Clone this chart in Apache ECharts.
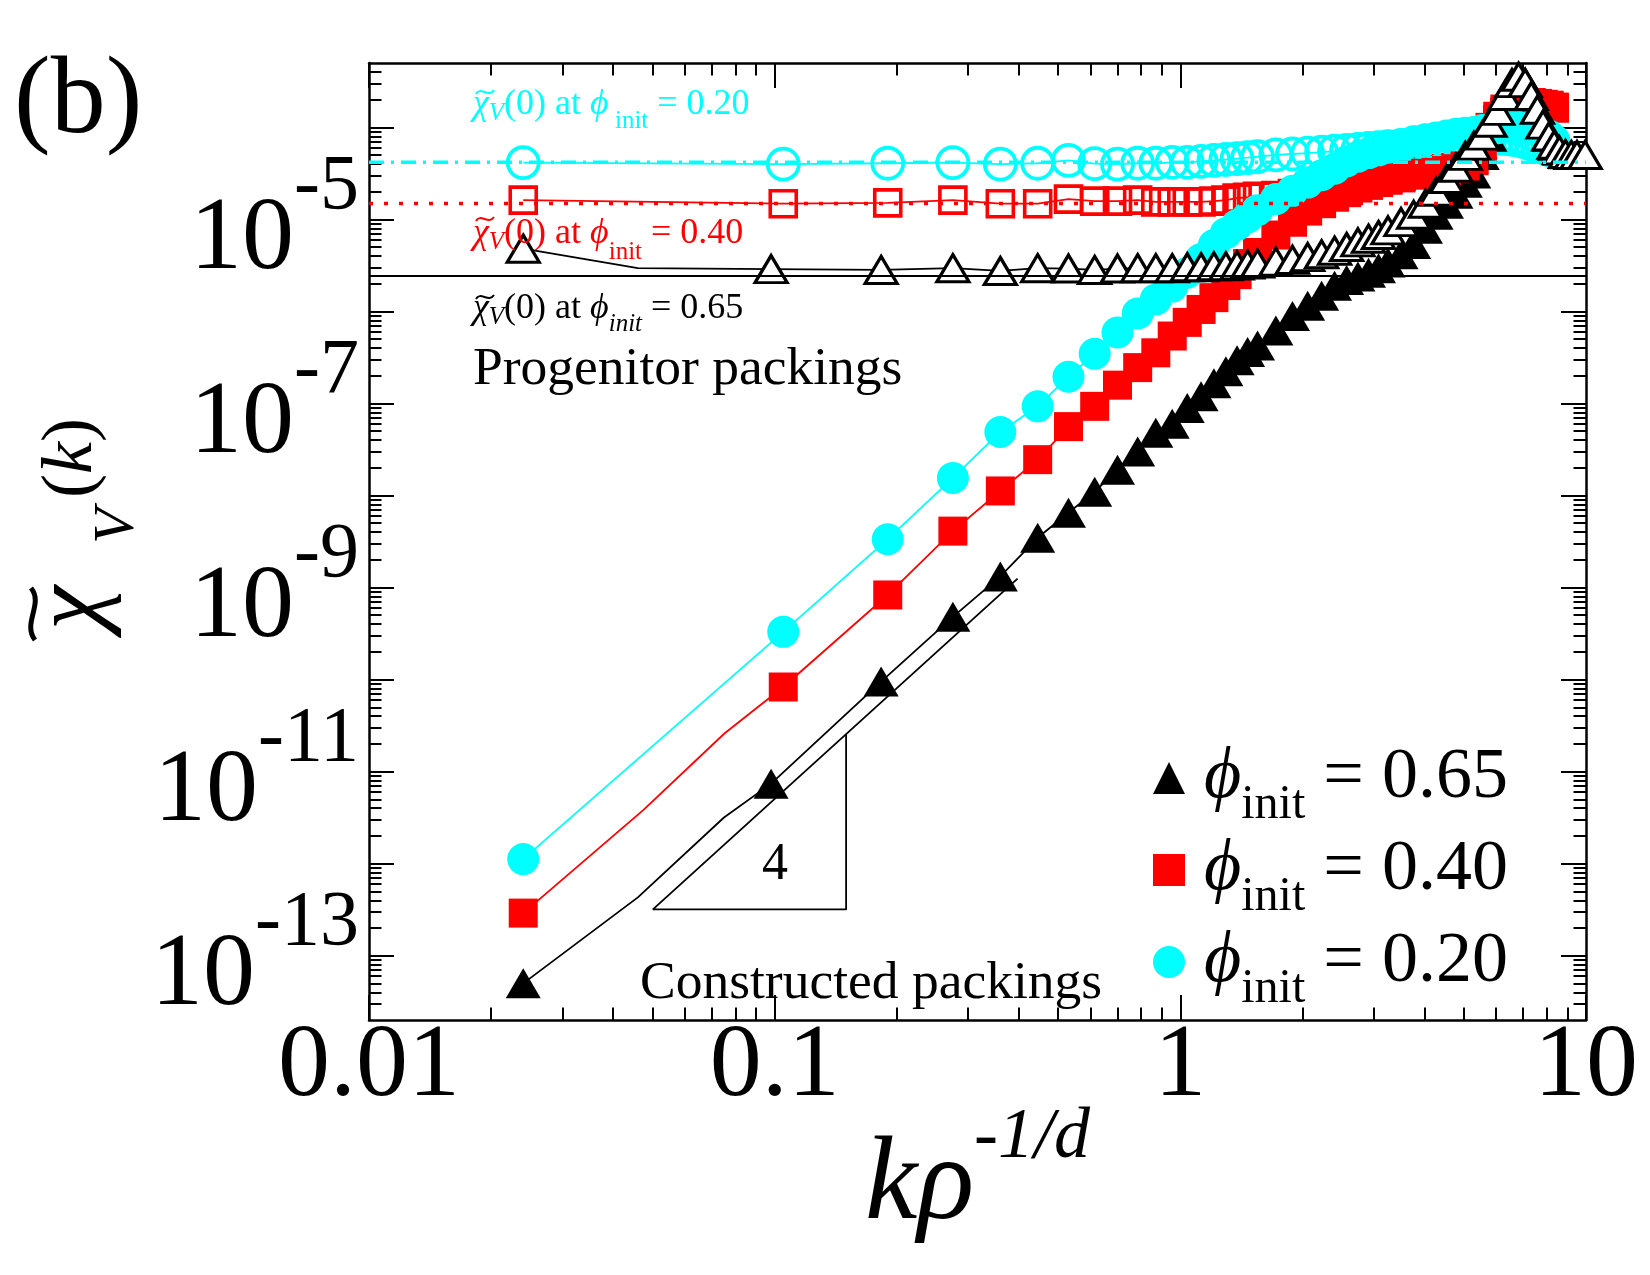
<!DOCTYPE html>
<html>
<head>
<meta charset="utf-8">
<title>spectral density chi_V(k)</title>
<script src="https://cdn.jsdelivr.net/npm/echarts@6/dist/echarts.min.js"></script>
<style>
  html, body { margin: 0; padding: 0; background: #fff; }
  #chart { width: 1650px; height: 1275px; }
</style>
</head>
<body>
<div id="chart"></div>
<script>
// k rho^(-1/d) positions of the markers
var kCommon = [0.024, 0.105, 0.19, 0.275, 0.36, 0.445, 0.53, 0.615, 0.70, 0.785,
  0.87, 0.955, 1.04, 1.125, 1.21, 1.295, 1.38, 1.465, 1.55, 1.72,
  1.89, 2.06, 2.23, 2.40, 2.57, 2.74, 2.91, 3.08, 3.25, 3.50,
  3.76, 4.02, 4.27, 4.53, 4.78, 5.04, 5.29, 5.55, 5.80, 6.06,
  6.31, 6.57, 6.82, 7.08, 7.33, 7.59, 7.84, 8.10, 8.35];
var kBlack = [0.024, 0.098, 0.183, 0.275, 0.36, 0.445, 0.53, 0.615, 0.70, 0.785,
  0.87, 0.955, 1.04, 1.125, 1.21, 1.295, 1.38, 1.465, 1.55, 1.72,
  1.89, 2.06, 2.23, 2.40, 2.57, 2.74, 2.91, 3.08, 3.25, 3.50,
  3.76, 4.02, 4.27, 4.53, 4.78, 5.04, 5.29, 5.55, 5.80, 6.06,
  6.31, 6.57, 6.82, 7.08, 7.33, 7.59, 7.84, 8.10, 8.35, 8.6,
  8.9, 9.2, 9.5, 9.95];

// constructed packings (filled symbols)
var constructed020 = [1.12e-12, 3.3e-10, 3.35e-9, 1.55e-8, 4.9e-8, 9.3e-8, 1.95e-7, 3.47e-7, 5.9e-7, 9.5e-7,
  1.35e-6, 1.86e-6, 2.63e-6, 3.72e-6, 5.25e-6, 7.08e-6, 8.7e-6, 1.05e-5, 1.26e-5, 1.66e-5,
  2.04e-5, 2.51e-5, 3.02e-5, 3.55e-5, 4.27e-5, 4.79e-5, 5.25e-5, 5.62e-5, 6.03e-5, 6.61e-5,
  7.08e-5, 7.41e-5, 7.76e-5, 8.13e-5, 8.51e-5, 8.71e-5, 8.91e-5, 9.33e-5, 9.55e-5, 9.77e-5,
  1.0e-4, 1.0e-4, 1.0e-4, 9.77e-5, 9.55e-5, 9.12e-5, 8.71e-5, 8.13e-5, 7.24e-5];
var constructed040 = [2.9e-13, 8.3e-11, 8.3e-10, 4.1e-9, 1.12e-8, 2.45e-8, 5.6e-8, 9.3e-8, 1.58e-7, 2.45e-7,
  3.55e-7, 5.4e-7, 7.6e-7, 1.05e-6, 1.41e-6, 1.91e-6, 2.51e-6, 3.31e-6, 4.37e-6, 6.76e-6,
  9.3e-6, 1.23e-5, 1.48e-5, 1.74e-5, 1.95e-5, 2.19e-5, 2.34e-5, 2.51e-5, 2.66e-5, 2.82e-5,
  3.02e-5, 3.16e-5, 3.24e-5, 3.39e-5, 3.55e-5, 3.8e-5, 4.47e-5, 6.3e-5, 1.0e-4, 1.32e-4,
  1.58e-4, 1.74e-4, 1.82e-4, 1.86e-4, 1.86e-4, 1.82e-4, 1.78e-4, 1.74e-4, 1.66e-4];
var constructed065 = [5.0e-14, 7.4e-12, 9.5e-11, 4.8e-10, 1.32e-9, 3.47e-9, 6.5e-9, 1.1e-8, 1.9e-8, 3.0e-8,
  4.8e-8, 6.0e-8, 8.9e-8, 1.2e-7, 1.66e-7, 2.24e-7, 2.95e-7, 3.63e-7, 4.27e-7, 6.2e-7,
  8.9e-7, 1.15e-6, 1.48e-6, 1.9e-6, 2.19e-6, 2.4e-6, 2.63e-6, 2.95e-6, 3.39e-6, 4.17e-6,
  5.4e-6, 7.9e-6, 1.12e-5, 1.48e-5, 1.9e-5, 2.5e-5, 3.16e-5, 5.0e-5, 7.9e-5, 1.26e-4,
  1.9e-4, 2.7e-4, 3.3e-4, 3.16e-4, 2.24e-4, 1.58e-4, 1.07e-4, 7.9e-5, 6.3e-5, 5.6e-5,
  5.1e-5, 5.0e-5, 5.0e-5, 5.0e-5];

// progenitor packings (open symbols)
var progenitor020 = [4.14e-5, 3.98e-5, 4.07e-5, 4.14e-5, 3.98e-5, 4.07e-5, 4.37e-5, 4.03e-5, 3.98e-5, 4.07e-5,
  4.07e-5, 4.17e-5, 4.17e-5, 4.27e-5, 4.37e-5, 4.47e-5, 4.57e-5, 4.68e-5, 4.79e-5, 5.01e-5,
  5.13e-5, 5.25e-5, 5.37e-5, 5.5e-5, 5.62e-5, 5.75e-5, 5.89e-5, 6.03e-5, 6.17e-5, 6.31e-5,
  6.46e-5, 6.61e-5, 6.76e-5, 6.92e-5, 7.08e-5, 7.24e-5, 7.24e-5, 7.41e-5, 7.41e-5, 7.59e-5,
  7.59e-5, 7.41e-5, 7.24e-5, 6.92e-5, 6.61e-5, 6.31e-5, 6.03e-5, 5.75e-5, 5.5e-5];
var progenitor040 = [1.62e-5, 1.48e-5, 1.51e-5, 1.62e-5, 1.48e-5, 1.48e-5, 1.66e-5, 1.58e-5, 1.58e-5, 1.62e-5,
  1.55e-5, 1.55e-5, 1.55e-5, 1.55e-5, 1.58e-5, 1.62e-5, 1.7e-5, 1.74e-5, 1.78e-5, 1.82e-5,
  1.91e-5, 2.0e-5, 2.09e-5, 2.19e-5, 2.29e-5, 2.4e-5, 2.51e-5, 2.63e-5, 2.75e-5, 2.95e-5,
  3.16e-5, 3.31e-5, 3.47e-5, 3.55e-5, 3.63e-5, 3.8e-5, 4.37e-5, 6.03e-5, 8.91e-5, 1.2e-4,
  1.45e-4, 1.62e-4, 1.74e-4, 1.78e-4, 1.78e-4, 1.78e-4, 1.74e-4, 1.7e-4, 1.62e-4];
var progenitor065 = [4.8e-6, 2.88e-6, 2.82e-6, 2.95e-6, 2.75e-6, 2.95e-6, 2.92e-6, 2.82e-6, 2.92e-6, 2.95e-6,
  2.95e-6, 2.95e-6, 3.02e-6, 3.02e-6, 3.09e-6, 3.09e-6, 3.16e-6, 3.24e-6, 3.31e-6, 3.47e-6,
  3.63e-6, 3.89e-6, 4.17e-6, 4.57e-6, 5.01e-6, 5.62e-6, 6.17e-6, 6.76e-6, 7.59e-6, 9.33e-6,
  1.12e-5, 1.48e-5, 2.0e-5, 2.75e-5, 3.63e-5, 4.9e-5, 6.31e-5, 8.13e-5, 1.12e-4, 1.51e-4,
  2.19e-4, 3.02e-4, 3.55e-4, 3.02e-4, 2.19e-4, 1.55e-4, 1.07e-4, 7.94e-5, 6.46e-5, 5.62e-5,
  5.13e-5, 5.01e-5, 5.01e-5, 5.01e-5];

// extra vertices of the thin connecting lines between the first markers
var lineExtra065 = [[0.046, 4.3e-13], [0.075, 3.17e-12]];
var lineExtra040 = [[0.0475, 3.84e-12], [0.0753, 2.61e-11]];
var lineExtraP065 = [[0.046, 2.95e-6]];

// chi_V(0) of the progenitors
var chiZero020 = 4.18e-5;
var chiZero040 = 1.49e-5;
var chiZero065 = 2.43e-6;

// slope-4 guide triangle
var slopeGuide = [[0.397, 1.25e-9], [0.0501, 3.18e-13], [0.150, 3.18e-13], [0.150, 2.55e-11]];

var xTickLabels = ['0.01', '0.1', '1', '10'];
var yLabelExponents = [-13, -11, -9, -7, -5];

var X_MIN = 0.01, X_MAX = 10, Y_MIN = 2e-14, Y_MAX = 5e-4;
var CYAN = '#00FFFF', RED = '#FF0000', BLACK = '#000000';
var SERIF = '"Liberation Serif", "Times New Roman", Times, serif';

function pairs(ks, vs) {
  return vs.map(function (v, i) { return [ks[i], v]; });
}
function withExtra(ks, vs, extra) {
  return pairs(ks, vs).concat(extra).sort(function (a, b) { return a[0] - b[0]; });
}

// tick positions on the log10 helper axes
var lxMin = Math.log10(X_MIN), lxMax = Math.log10(X_MAX);
var lyMin = Math.log10(Y_MIN), lyMax = Math.log10(Y_MAX);
function decades(lo, hi) {
  var out = [];
  for (var d = Math.ceil(lo - 1e-9); d <= hi + 1e-9; d++) out.push(d);
  return out;
}
function minors(lo, hi) {
  var out = [];
  for (var d = Math.floor(lo); d < hi; d++) {
    for (var m = 2; m <= 9; m++) {
      var v = d + Math.log10(m);
      if (v > lo && v < hi) out.push(v);
    }
  }
  return out;
}
var xMajor = decades(lxMin, lxMax), xMinor = minors(lxMin, lxMax);
var yMajor = decades(lyMin, lyMax), yMinor = minors(lyMin, lyMax);

function tickAxis(position, lo, hi, ticks, len, extra) {
  var ax = {
    type: 'value', position: position, min: lo, max: hi,
    axisLine: { show: true, onZero: false, lineStyle: { color: BLACK, width: 2.5 } },
    axisTick: { show: true, inside: true, length: len, customValues: ticks,
      lineStyle: { color: BLACK, width: 2 } },
    axisLabel: { show: false },
    splitLine: { show: false },
    silent: true
  };
  return Object.assign(ax, extra || {});
}

var chart = echarts.init(document.getElementById('chart'));

var option = {
  animation: false,
  backgroundColor: '#fff',
  grid: { left: 369, right: 64, top: 63, bottom: 255, containLabel: false, outerBoundsMode: 'none' },
  xAxis: [
    { type: 'log', logBase: 10, min: X_MIN, max: X_MAX, show: false },
    tickAxis('bottom', lxMin, lxMax, xMajor, 25, {
      axisLabel: {
        show: true, customValues: xMajor, margin: 8, color: BLACK,
        fontFamily: SERIF, fontSize: 104, lineHeight: 80,
        formatter: function (v) { return xTickLabels[Math.round(v - lxMin)]; }
      },
      name: '{k|kρ}{s|-1/d}',
      nameLocation: 'middle',
      nameGap: 108,
      nameMoveOverlap: false,
      nameTextStyle: {
        color: BLACK, fontFamily: SERIF,
        rich: {
          k: { fontSize: 118, fontStyle: 'italic', lineHeight: 118, fontFamily: SERIF, color: BLACK },
          s: { fontSize: 72, fontStyle: 'italic', lineHeight: 72, padding: [0, 0, 98, 0], fontFamily: SERIF, color: BLACK }
        }
      }
    }),
    tickAxis('bottom', lxMin, lxMax, xMinor, 12.5, { axisLine: { show: false, onZero: false } }),
    tickAxis('top', lxMin, lxMax, xMajor, 25),
    tickAxis('top', lxMin, lxMax, xMinor, 12.5, { axisLine: { show: false, onZero: false } })
  ],
  yAxis: [
    { type: 'log', logBase: 10, min: Y_MIN, max: Y_MAX, show: false },
    tickAxis('left', lyMin, lyMax, yMajor, 25, {
      axisLabel: {
        show: true, customValues: yLabelExponents, margin: 10, color: BLACK,
        fontFamily: SERIF,
        formatter: function (v) { return '{b|10}{e|' + Math.round(v) + '}'; },
        rich: {
          b: { fontSize: 104, lineHeight: 104, padding: [42, 0, 0, 0], fontFamily: SERIF, color: BLACK },
          e: { fontSize: 78, lineHeight: 78, padding: [0, 0, 64, 0], fontFamily: SERIF, color: BLACK }
        }
      }
    }),
    tickAxis('left', lyMin, lyMax, yMinor, 12.5, { axisLine: { show: false, onZero: false } }),
    tickAxis('right', lyMin, lyMax, yMajor, 25),
    tickAxis('right', lyMin, lyMax, yMinor, 12.5, { axisLine: { show: false, onZero: false } })
  ],
  legend: {
    data: ['C065', 'C040', 'C020'],
    orient: 'vertical',
    left: 1148, top: 722,
    itemWidth: 32, itemHeight: 32, itemGap: -10,
    selectedMode: false,
    formatter: function (name) {
      var phi = { C065: '0.65', C040: '0.40', C020: '0.20' }[name];
      return '{f|ϕ}{s|init}{m| = ' + phi + '}';
    },
    textStyle: {
      color: BLACK, fontFamily: SERIF,
      rich: {
        f: { fontSize: 72, fontStyle: 'italic', lineHeight: 72, padding: [0, 0, 0, 14], fontFamily: SERIF, color: BLACK },
        s: { fontSize: 48, lineHeight: 48, padding: [54, 0, 0, 0], fontFamily: SERIF, color: BLACK },
        m: { fontSize: 72, lineHeight: 72, fontFamily: SERIF, color: BLACK }
      }
    }
  },
  series: [],
  graphic: []
};

function thinLine(data, color) {
  return {
    type: 'line', data: data, xAxisIndex: 0, yAxisIndex: 0,
    showSymbol: false, symbol: 'none', z: 2, silent: true,
    lineStyle: { color: color, width: 1.8 }
  };
}
function markers(name, data, symbol, size, fill, stroke, bw, z) {
  return {
    type: 'scatter', name: name, data: data, xAxisIndex: 0, yAxisIndex: 0,
    symbol: symbol, symbolSize: size, z: z, silent: true,
    itemStyle: { color: fill, borderColor: stroke, borderWidth: bw, opacity: 1 }
  };
}
function levelLine(value, color, width, type) {
  return {
    type: 'line', data: [[X_MIN, value], [X_MAX, value]], xAxisIndex: 0, yAxisIndex: 0,
    showSymbol: false, symbol: 'none', z: 6, silent: true,
    lineStyle: { color: color, width: width, type: type }
  };
}

option.series = [
  thinLine(pairs(kCommon, progenitor040), RED),
  thinLine(pairs(kCommon, progenitor020), CYAN),
  thinLine(withExtra(kBlack, progenitor065, lineExtraP065), BLACK),
  thinLine(pairs(kCommon, constructed020), CYAN),
  thinLine(withExtra(kCommon, constructed040, lineExtra040), RED),
  thinLine(withExtra(kBlack, constructed065, lineExtra065), BLACK),
  markers('P040', pairs(kCommon, progenitor040), 'rect', 26, 'rgba(255,255,255,0)', RED, 3.6, 3),
  markers('P020', pairs(kCommon, progenitor020), 'circle', 31, 'rgba(255,255,255,0)', CYAN, 3.8, 3),
  markers('C065', pairs(kBlack, constructed065), 'triangle', [35, 30], BLACK, BLACK, 0, 4),
  markers('C040', pairs(kCommon, constructed040), 'rect', 29, RED, RED, 0, 4),
  markers('C020', pairs(kCommon, constructed020), 'circle', 32, CYAN, CYAN, 0, 4),
  markers('P065', pairs(kBlack, progenitor065), 'triangle', [32, 27], '#ffffff', BLACK, 3.2, 5),
  levelLine(chiZero020, CYAN, 3.5, [15, 7, 3, 7]),
  levelLine(chiZero040, RED, 3.5, [4, 11]),
  levelLine(chiZero065, BLACK, 2, 'solid'),
  {
    type: 'line', data: slopeGuide, xAxisIndex: 0, yAxisIndex: 0,
    showSymbol: false, symbol: 'none', z: 6, silent: true,
    lineStyle: { color: BLACK, width: 1.8 }
  }
];

// small wavy tilde drawn over a chi glyph
function tilde(x1, y1, x2, y2, c1x, c1y, c2x, c2y, color, width) {
  return {
    type: 'bezierCurve', z: 11, silent: true,
    shape: { x1: x1, y1: y1, x2: x2, y2: y2, cpx1: c1x, cpy1: c1y, cpx2: c2x, cpy2: c2y },
    style: { stroke: color, lineWidth: width, fill: null }
  };
}

function annotation(top, color, subStyle, spacer, value) {
  return {
    type: 'text', left: 473, top: top, z: 10, silent: true,
    style: {
      text: '{c|χ}{v|V}{m|(0) at }{f|ϕ}{' + subStyle + '|' + spacer + 'init}{m| = ' + value + '}',
      fill: color,
      rich: {
        c: { fontSize: 36, fontStyle: 'italic', lineHeight: 36, fontFamily: SERIF, fill: color },
        v: { fontSize: 25, fontStyle: 'italic', lineHeight: 25, padding: [17, 0, 0, 0], fontFamily: SERIF, fill: color },
        m: { fontSize: 36, lineHeight: 36, fontFamily: SERIF, fill: color },
        f: { fontSize: 36, fontStyle: 'italic', lineHeight: 36, fontFamily: SERIF, fill: color },
        s: { fontSize: 25, lineHeight: 25, padding: [33, 0, 0, 0], fontFamily: SERIF, fill: color },
        r: { fontSize: 25, lineHeight: 25, padding: [37, 0, 0, 0], fontFamily: SERIF, fill: color },
        si: { fontSize: 25, fontStyle: 'italic', lineHeight: 25, padding: [31, 0, 0, 0], fontFamily: SERIF, fill: color }
      }
    }
  };
}
function annotationTilde(top, color) {
  var y = top + 16;
  return tilde(476, y + 2, 494, y - 2, 480, y - 6, 489, y + 6, color, 2);
}
function plainText(left, top, text, size, align) {
  return {
    type: 'text', left: left, top: top, z: 10, silent: true,
    style: { text: text, fill: BLACK, font: size + 'px ' + SERIF, textAlign: align || 'left' }
  };
}
// vertical (rotated) text centred on (x, y)
function rotatedText(x, y, text, font) {
  return {
    type: 'text', x: x, y: y, rotation: Math.PI / 2, z: 10, silent: true,
    style: {
      text: text, font: font, fill: BLACK,
      align: 'center', verticalAlign: 'middle', textAlign: 'center', textVerticalAlign: 'middle'
    }
  };
}

option.graphic = [
  plainText(14, 48, '(b)', 110),
  annotation(76, CYAN, 's', ' ', '0.20'),
  annotation(203, RED, 'r', '', '0.40'),
  annotation(281, BLACK, 'si', '', '0.65'),
  annotationTilde(76, CYAN),
  annotationTilde(203, RED),
  annotationTilde(281, BLACK),
  // y-axis title: chi~_V(k), one rotated glyph group at a time
  rotatedText(74, 608, 'χ', 'italic 100px ' + SERIF),
  rotatedText(118, 526, 'V', 'italic 58px ' + SERIF),
  rotatedText(72, 486, '(', '72px ' + SERIF),
  rotatedText(72, 458, 'k', 'italic 72px ' + SERIF),
  rotatedText(72, 430, ')', '72px ' + SERIF),
  tilde(35, 640, 31, 588, 22, 623, 44, 604, BLACK, 5),
  plainText(473, 343, 'Progenitor packings', 53.5),
  plainText(640, 957, 'Constructed packings', 53.5),
  plainText(762, 839, '4', 52)
];

chart.setOption(option);
</script>
</body>
</html>
